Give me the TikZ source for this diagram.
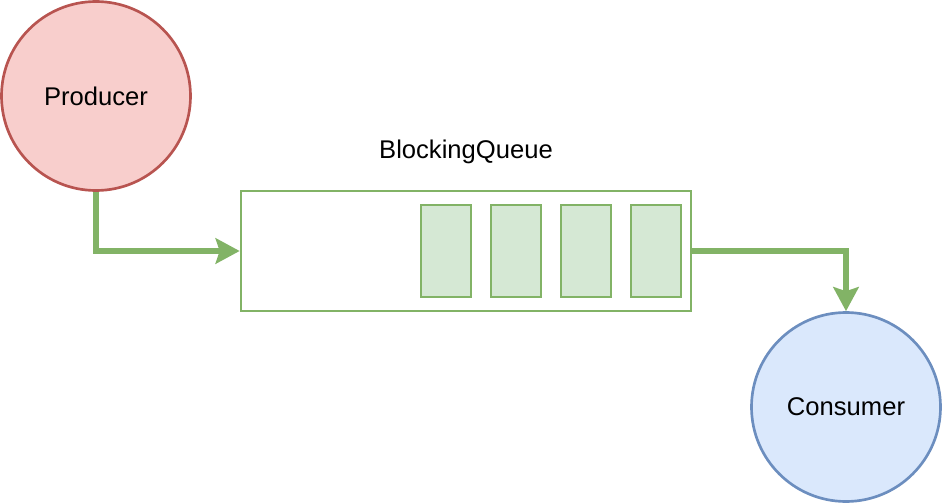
\documentclass[tikz,border=0pt]{standalone}
\usepackage{fontspec}
\setmainfont{Liberation Sans}
\usetikzlibrary{arrows.meta}
\definecolor{gstroke}{HTML}{82B366}
\definecolor{gfill}{HTML}{D5E8D4}
\definecolor{rstroke}{HTML}{B85450}
\definecolor{rfill}{HTML}{F8CECC}
\definecolor{bstroke}{HTML}{6C8EBF}
\definecolor{bfill}{HTML}{DAE8FC}
\tikzset{
  actor/.style={circle, inner sep=0pt, minimum size=141.75pt, line width=2pt, font=\fontsize{19.2}{23}\selectfont},
  queuebox/.style={rectangle, draw=gstroke, fill=white, line width=2pt, inner sep=0pt, minimum width=337.5pt, minimum height=90pt},
  slot/.style={rectangle, draw=gstroke, fill=gfill, line width=2pt, inner sep=0pt, minimum width=37.5pt, minimum height=69pt},
  flow/.style={draw=gstroke, line width=4pt, -{Stealth[length=18pt, width=19pt, inset=3pt]}},
}
\begin{document}
\begin{tikzpicture}[x=0.75pt, y=-0.75pt]
\useasboundingbox (0,0) rectangle (943,503);
\node[actor, draw=rstroke, fill=rfill] (prod) at (96,96) {Producer};
\node[actor, draw=bstroke, fill=bfill] (cons) at (846,407) {Consumer};
\node[queuebox] (queue) at (466,251) {};
\node[slot] (s1) at (446,251) {};
\node[slot] (s2) at (516,251) {};
\node[slot] (s3) at (586,251) {};
\node[slot] (s4) at (656,251) {};
\node[font=\fontsize{19.2}{23}\selectfont] (qlabel) at (466,152) {BlockingQueue};
\draw[flow] (prod.south) |- (queue.west);
\draw[flow] (queue.east) -| (cons.north);
\end{tikzpicture}
\end{document}
